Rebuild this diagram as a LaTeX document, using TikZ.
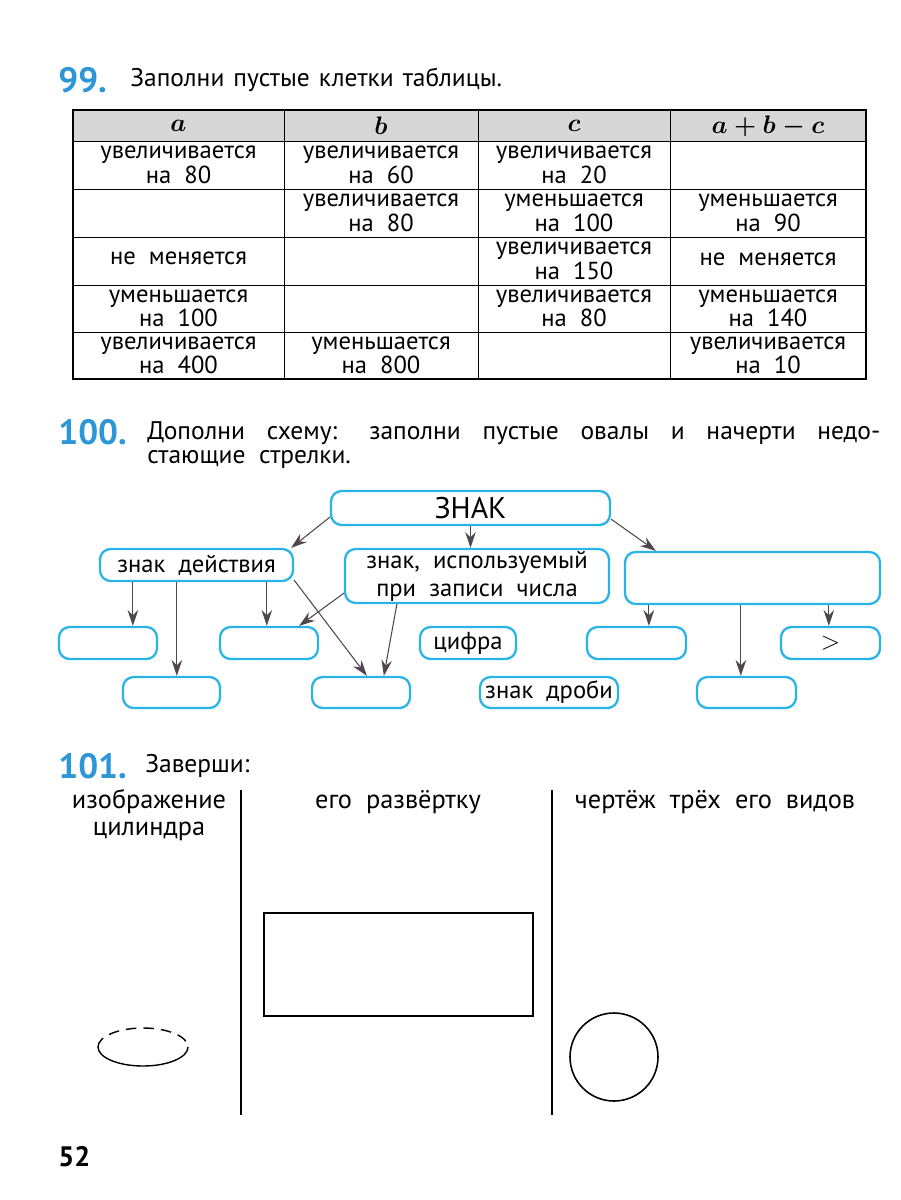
\documentclass[tikz,border=0pt]{standalone}
\usepackage{amsmath}
\usepackage{fontspec}
\setmainfont[WordSpace=2]{PT Sans}
\usetikzlibrary{arrows.meta,calc}
\definecolor{sky}{RGB}{40,180,230}
\definecolor{numblue}{RGB}{45,150,215}
\definecolor{hdr}{RGB}{215,215,215}
\definecolor{arr}{RGB}{80,70,80}
\begin{document}
\begin{tikzpicture}[x=0.02cm,y=-0.02cm,
  box/.style={draw=sky,line width=1.3pt,rounded corners=6pt,inner sep=0pt,font=\fontsize{14}{16}\selectfont,align=center},
  ar/.style={draw=arr,line width=0.6pt,-{Stealth[length=9pt,width=6pt,inset=3pt]}},
  cell/.style={align=center,font=\fontsize{14}{12.5}\selectfont},
  num/.style={anchor=west,font=\fontsize{20}{21}\bfseries\selectfont,text=numblue,inner sep=0pt},
  txt/.style={anchor=west,font=\fontsize{14.5}{15}\selectfont,inner sep=0pt},
  hd/.style={font=\fontsize{15}{16}\selectfont}]
\useasboundingbox (0,0) rectangle (900,1200);
% ---- 99
\node[num] (n99) at (58,80) {99.};
\node[txt] (t99) at (130,80) {\makebox[6.76cm][s]{Заполни пустые клетки таблицы.}};
\fill[hdr] (73,110) rectangle (866,141);
\draw[line width=0.8pt] (73,110) rectangle (866,379);
\foreach \y in {141,189,237,285,332} \draw[line width=0.5pt] (73,\y) -- (866,\y);
\foreach \x in {284,478,670} \draw[line width=0.5pt] (\x,110) -- (\x,379);
\node[hd] (ha) at (178.5,126) {$\boldsymbol{a}$};
\node[hd] (hb) at (381,126) {$\boldsymbol{b}$};
\node[hd] (hc) at (574,126) {$\boldsymbol{c}$};
\node[hd] (hd) at (768,126) {$\boldsymbol{a+b-c}$};
\node[cell] (c11) at (178.5,165) {увеличивается\\на 80};
\node[cell] (c12) at (381,165) {увеличивается\\на 60};
\node[cell] (c13) at (574,165) {увеличивается\\на 20};
\node[cell] (c22) at (381,213) {увеличивается\\на 80};
\node[cell] (c23) at (574,213) {уменьшается\\на 100};
\node[cell] (c24) at (768,213) {уменьшается\\на 90};
\node[cell] (c31) at (178.5,258) {не меняется};
\node[cell] (c33) at (574,261) {увеличивается\\на 150};
\node[cell] (c34) at (768,259) {не меняется};
\node[cell] (c41) at (178.5,308.5) {уменьшается\\на 100};
\node[cell] (c43) at (574,308.5) {увеличивается\\на 80};
\node[cell] (c44) at (768,308.5) {уменьшается\\на 140};
\node[cell] (c51) at (178.5,355.5) {увеличивается\\на 400};
\node[cell] (c52) at (381,355.5) {уменьшается\\на 800};
\node[cell] (c54) at (768,355.5) {увеличивается\\на 10};
% ---- 100
\node[num] (n100) at (58,432) {100.};
\node[txt,anchor=north west,align=left,font=\fontsize{14.5}{14}\selectfont] (t100) at (147,421) {\makebox[14.66cm][s]{Дополни схему: заполни пустые овалы и начерти недо-}\\стающие стрелки.};
\node[box,minimum width=5.58cm,minimum height=0.68cm,font=\fontsize{17}{18}\selectfont] (Z) at (470.5,508) {ЗНАК};
\node[box,minimum width=3.86cm,minimum height=0.64cm] (zd) at (196.5,565) {знак действия};
\node[box,minimum width=5.28cm,minimum height=1.08cm] (zi) at (477,576) {знак, используемый\\при записи числа};
\node[box,minimum width=5.1cm,minimum height=1.04cm] (em) at (752.5,578) {};
\node[box,minimum width=1.96cm,minimum height=0.64cm] (A) at (108,643) {};
\node[box,minimum width=1.96cm,minimum height=0.64cm] (B) at (269,643) {};
\node[box,minimum width=1.92cm,minimum height=0.64cm] (cif) at (468,643) {цифра};
\node[box,minimum width=1.98cm,minimum height=0.64cm] (R1) at (636.5,643) {};
\node[box,minimum width=1.98cm,minimum height=0.64cm] (gt) at (830.5,643) {$>$};
\node[box,minimum width=1.94cm,minimum height=0.62cm] (C) at (171.5,692.5) {};
\node[box,minimum width=1.96cm,minimum height=0.62cm] (D) at (361,692.5) {};
\node[box,minimum width=2.76cm,minimum height=0.62cm] (dr) at (549,692.5) {знак дроби};
\node[box,minimum width=1.98cm,minimum height=0.62cm] (E) at (746.5,692.5) {};
\draw[ar] ([yshift=0.18cm]Z.south west) -- ([xshift=-0.06cm]zd.north east);
\draw[ar] (Z.south) -- (Z.south |- zi.north);
\draw[ar] ([yshift=0.14cm]Z.south east) -- ([xshift=0.64cm]em.north west);
\draw[ar] ([xshift=0.68cm]zd.south west) -- ([xshift=0.68cm]zd.south west |- A.north);
\draw[ar] ([xshift=1.56cm]zd.south west) -- ([xshift=1.56cm]zd.south west |- C.north);
\draw[ar] ([xshift=3.36cm]zd.south west) -- ([xshift=3.36cm]zd.south west |- B.north);
\draw[ar] ([yshift=0.04cm]zd.south east) -- ([xshift=1.12cm]D.north west);
\draw[ar] ([yshift=0.22cm]zi.south west) -- ([xshift=-0.4cm]B.north east);
\draw[ar] ([xshift=1.06cm]zi.south west) -- ([xshift=1.46cm]D.north west);
\draw[ar] ([xshift=0.5cm]em.south west) -- ([xshift=0.5cm]em.south west |- R1.north);
\draw[ar] ([xshift=2.34cm]em.south west) -- ([xshift=2.34cm]em.south west |- E.north);
\draw[ar] ([xshift=4.1cm]em.south west) -- ([xshift=4.1cm]em.south west |- gt.north);
% ---- 101
\node[num] (n101) at (58,766) {101.};
\node[txt] (t101) at (145,766) {Заверши:};
\draw[line width=0.8pt] (241,790) -- (241,1115);
\draw[line width=0.8pt] (552,790) -- (552,1115);
\node[align=center,font=\fontsize{15}{15}\selectfont] (q1) at (149,815) {изображение\\цилиндра};
\node[anchor=center,font=\fontsize{15}{15}\selectfont] (q2) at (398,802) {его развёртку};
\node[anchor=center,font=\fontsize{15}{15}\selectfont] (q3) at (715,802) {чертёж трёх его видов};
\draw[line width=0.9pt] (264,913) rectangle (533,1016);
\draw[line width=0.8pt] (98,1047) arc[start angle=180,end angle=0,x radius=45,y radius=19];
\draw[line width=0.8pt,dash pattern=on 6pt off 4pt] (98,1047) arc[start angle=180,end angle=360,x radius=45,y radius=19];
\draw[line width=0.9pt] (614,1057) circle[radius=44];
\node[txt,font=\fontsize{16}{17}\bfseries\selectfont] (pg) at (58,1157) {52};
\end{tikzpicture}
\end{document}
